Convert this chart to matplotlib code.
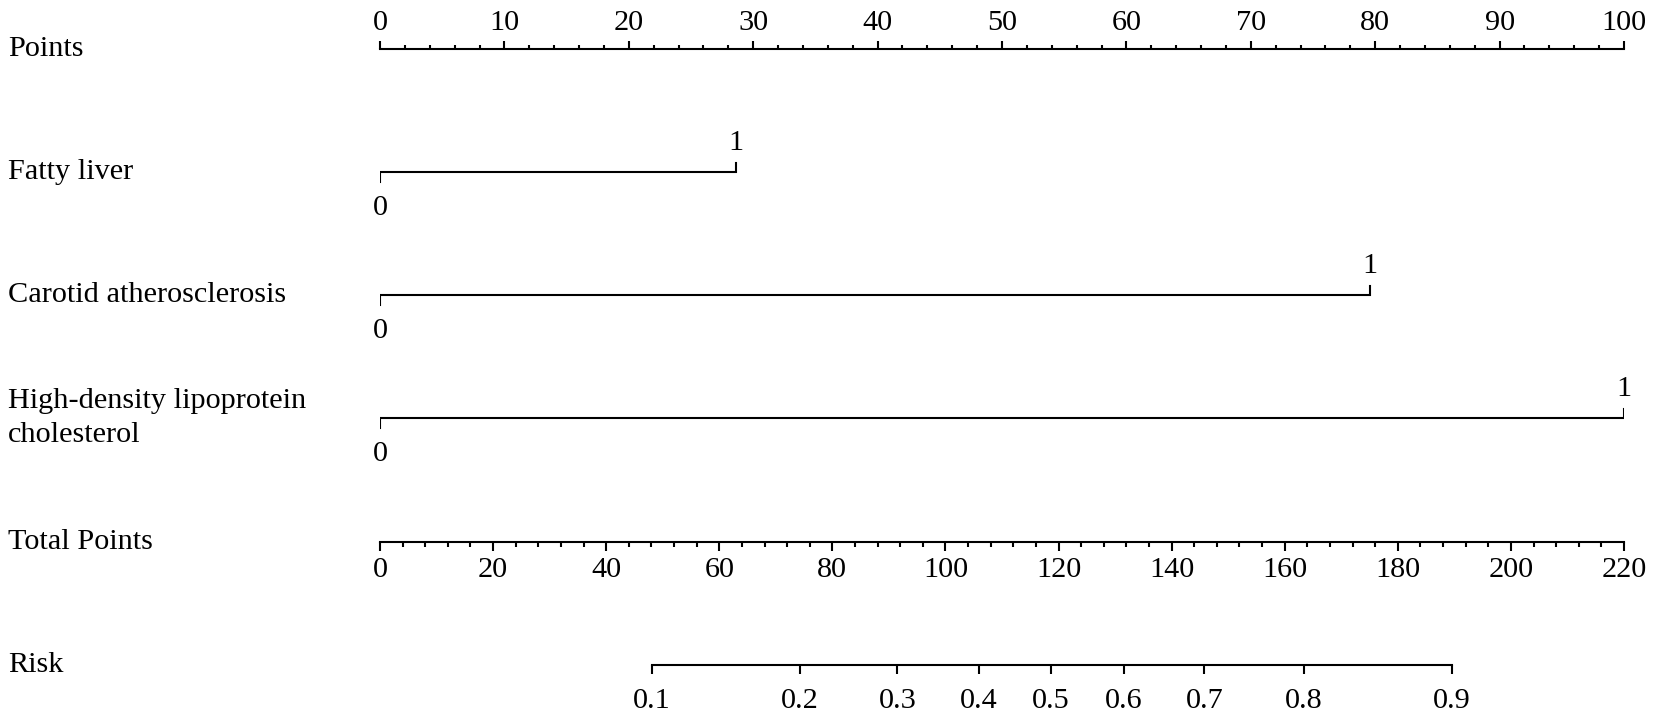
import matplotlib.pyplot as plt
import numpy as np

plt.rcParams['font.family'] = 'Liberation Serif'
plt.rcParams['font.size'] = 21.8

# data
row_labels = ['Points', 'Fatty liver', 'Carotid atherosclerosis',
              'High-density lipoprotein\ncholesterol', 'Total Points', 'Risk']
factor_points = [28.6, 79.6, 100.0]   # points given to level "1" (level "0" = 0)
factor_levels = ['0', '1']
points_ticks = [0, 10, 20, 30, 40, 50, 60, 70, 80, 90, 100]
total_ticks = [0, 20, 40, 60, 80, 100, 120, 140, 160, 180, 200, 220]
risk_values = [0.1, 0.2, 0.3, 0.4, 0.5, 0.6, 0.7, 0.8, 0.9]
risk_positions = [48.1, 74.2, 91.5, 105.9, 118.6, 131.6, 145.8, 163.4, 189.5]  # total points

# layout (pixels)
W, H = 1654, 715
row_y = [49, 172, 295, 418, 542, 665]
lw = 1.5

fig = plt.figure(figsize=(W / 100, H / 100), dpi=100)
x0, x1 = 380 / W, 1624 / W


def strip(y):
    ax = fig.add_axes([x0, 1 - y / H, x1 - x0, 1e-4])
    for s in ax.spines.values():
        s.set_visible(False)
        s.set_linewidth(lw)
    ax.set_yticks([])
    ax.patch.set_visible(False)
    return ax


# Points scale
axp = strip(row_y[0])
axp.spines['top'].set_visible(True)
axp.xaxis.tick_top()
axp.set_xlim(0, 100)
axp.set_xticks(points_ticks)
axp.set_xticks(np.arange(0, 101, 2), minor=True)
axp.tick_params(which='major', length=6, width=lw, pad=3)
axp.tick_params(which='minor', length=3, width=lw)

# Total points scale
axt = strip(row_y[4])
axt.spines['bottom'].set_visible(True)
axt.set_xlim(0, 220)
axt.set_xticks(total_ticks)
axt.set_xticks(np.arange(0, 221, 4), minor=True)
axt.tick_params(which='major', length=6.5, width=lw, pad=4)
axt.tick_params(which='minor', length=3.5, width=lw)

# Risk scale
axr = strip(row_y[5])
axr.spines['bottom'].set_visible(True)
axr.spines['bottom'].set_bounds(risk_positions[0], risk_positions[-1])
axr.set_xlim(0, 220)
axr.set_xticks(risk_positions)
axr.set_xticklabels([f'{v:g}' for v in risk_values])
axr.tick_params(length=6.5, width=lw, pad=10)

# factor rows
ax = fig.add_axes([x0, 0, x1 - x0, 1])
ax.set_xlim(0, 100)
ax.set_ylim(H, 0)
ax.axis('off')
for p, y in zip(factor_points, row_y[1:4]):
    ax.plot([0, 0, p, p], [y + 9.5, y, y, y - 9.5], color='black', lw=lw,
            solid_joinstyle='miter')
    ax.text(0, y + 43, factor_levels[0], ha='center', va='baseline')
    ax.text(p, y - 22, factor_levels[1], ha='center', va='baseline')

# row labels
for lab, y in zip(row_labels, row_y):
    fig.text(8 / W, 1 - y / H, lab, ha='left', va='center', linespacing=1.35)

fig.savefig('out.png', dpi=100)
